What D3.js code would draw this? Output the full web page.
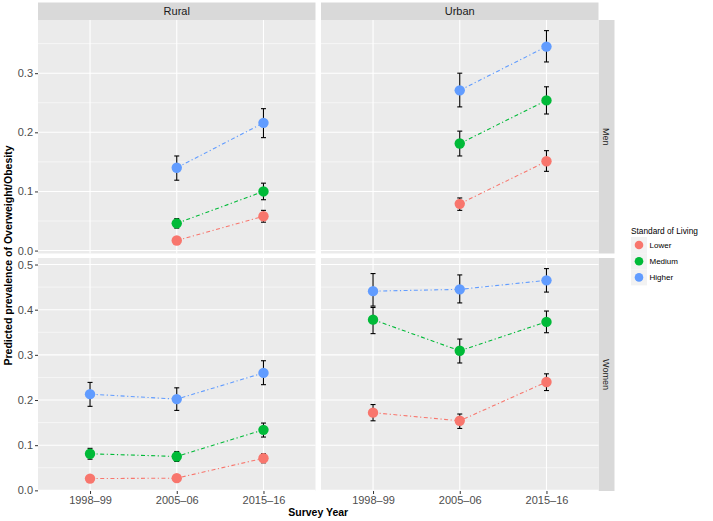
<!DOCTYPE html>
<html>
<head>
<meta charset="utf-8">
<script src="https://cdn.jsdelivr.net/npm/d3@7"></script>
<style>
  html, body { margin: 0; padding: 0; background: #ffffff; }
  svg { display: block; font-family: "Liberation Sans", Arial, Helvetica, sans-serif; }
</style>
</head>
<body>
<svg id="chart" width="713" height="521"></svg>
<script>
// ---------------- DATA ----------------
const years = ["1998–99", "2005–06", "2015–16"];
const areas = ["Rural", "Urban"];
const sexes = ["Men", "Women"];
const levels = ["Lower", "Medium", "Higher"];
const levelColors = ["#F8766D", "#00BA38", "#619CFF"];

// rows = levels (Lower, Medium, Higher), columns = years
const menRuralEst  = [[null, 0.017, 0.058], [null, 0.046, 0.100], [null, 0.140, 0.216]];
const menRuralLow  = [[null, 0.013, 0.048], [null, 0.038, 0.086], [null, 0.119, 0.191]];
const menRuralHigh = [[null, 0.021, 0.068], [null, 0.054, 0.114], [null, 0.160, 0.240]];

const menUrbanEst  = [[null, 0.079, 0.151], [null, 0.181, 0.254], [null, 0.271, 0.345]];
const menUrbanLow  = [[null, 0.068, 0.134], [null, 0.160, 0.231], [null, 0.243, 0.319]];
const menUrbanHigh = [[null, 0.089, 0.169], [null, 0.202, 0.277], [null, 0.300, 0.372]];

const womenRuralEst  = [[0.026, 0.027, 0.071], [0.081, 0.075, 0.134], [0.213, 0.202, 0.260]];
const womenRuralLow  = [[0.022, 0.023, 0.061], [0.069, 0.064, 0.118], [0.186, 0.177, 0.234]];
const womenRuralHigh = [[0.030, 0.031, 0.081], [0.093, 0.086, 0.149], [0.239, 0.227, 0.287]];

const womenUrbanEst  = [[0.172, 0.154, 0.240], [0.378, 0.309, 0.373], [0.441, 0.445, 0.465]];
const womenUrbanLow  = [[0.154, 0.137, 0.221], [0.347, 0.282, 0.349], [0.408, 0.415, 0.439]];
const womenUrbanHigh = [[0.190, 0.169, 0.258], [0.405, 0.335, 0.397], [0.480, 0.477, 0.491]];

const yTicksMen = [0.0, 0.1, 0.2, 0.3];
const yTicksWomen = [0.0, 0.1, 0.2, 0.3, 0.4, 0.5];

const yTitle = "Predicted prevalence of Overweight/Obesity";
const xTitle = "Survey Year";
const legendTitle = "Standard of Living";

// ---------------- LAYOUT ----------------
const panelData = {
  Men:   { Rural: [menRuralEst, menRuralLow, menRuralHigh], Urban: [menUrbanEst, menUrbanLow, menUrbanHigh] },
  Women: { Rural: [womenRuralEst, womenRuralLow, womenRuralHigh], Urban: [womenUrbanEst, womenUrbanLow, womenUrbanHigh] }
};
const yTicks = { Men: yTicksMen, Women: yTicksWomen };

const colX = { Rural: [38, 315.5], Urban: [321, 598.5] };
const rowY = { Men: [20, 253.5], Women: [258, 491] };

const svg = d3.select("#chart");
const color = d3.scaleOrdinal().domain(levels).range(levelColors);

// y scales per row (free_y with 5% expansion, shared across columns)
const yScales = {};
sexes.forEach(s => {
  let lo = Infinity, hi = -Infinity;
  areas.forEach(a => {
    const [, l, h] = panelData[s][a];
    l.flat().forEach(v => { if (v != null) lo = Math.min(lo, v); });
    h.flat().forEach(v => { if (v != null) hi = Math.max(hi, v); });
  });
  const pad = (hi - lo) * 0.05;
  yScales[s] = d3.scaleLinear().domain([lo - pad, hi + pad]).range([rowY[s][1], rowY[s][0]]);
});

// x scales per column (discrete with 0.6 expansion)
const xScales = {};
areas.forEach(a => {
  const [x0, x1] = colX[a];
  const unit = (x1 - x0) / (years.length - 1 + 1.2);
  xScales[a] = d3.scalePoint().domain(years).range([x0 + 0.6 * unit, x1 - 0.6 * unit]);
});

// top strips
areas.forEach(a => {
  const [x0, x1] = colX[a];
  svg.append("rect").attr("x", x0).attr("y", 2.5).attr("width", x1 - x0).attr("height", 17.5).attr("fill", "#d9d9d9");
  svg.append("text").attr("x", (x0 + x1) / 2).attr("y", 15.2).attr("text-anchor", "middle")
    .attr("font-size", 11).attr("fill", "#1a1a1a").text(a);
});
// right strips
sexes.forEach(s => {
  const [y0, y1] = rowY[s];
  svg.append("rect").attr("x", 598.5).attr("y", y0).attr("width", 16).attr("height", y1 - y0).attr("fill", "#d9d9d9");
  svg.append("text").attr("transform", `translate(602.5,${(y0 + y1) / 2}) rotate(90)`)
    .attr("text-anchor", "middle").attr("font-size", 9).attr("fill", "#1a1a1a").text(s);
});

// panels
sexes.forEach(s => {
  areas.forEach(a => {
    const x = xScales[a], y = yScales[s];
    const [x0, x1] = colX[a];
    const [y0, y1] = rowY[s];
    const g = svg.append("g");
    g.append("rect").attr("x", x0).attr("y", y0).attr("width", x1 - x0).attr("height", y1 - y0).attr("fill", "#ebebeb");
    // minor grid
    const ticks = yTicks[s];
    const minors = ticks.map(t => t + 0.05).concat([ticks[0] - 0.05])
      .filter(v => v > y.domain()[0] && v < y.domain()[1]);
    g.selectAll(".minor").data(minors).join("line")
      .attr("x1", x0).attr("x2", x1).attr("y1", d => y(d)).attr("y2", d => y(d))
      .attr("stroke", "#ffffff").attr("stroke-width", 0.55);
    g.selectAll(".major").data(ticks).join("line")
      .attr("x1", x0).attr("x2", x1).attr("y1", d => y(d)).attr("y2", d => y(d))
      .attr("stroke", "#ffffff").attr("stroke-width", 1.1);
    g.selectAll(".vmajor").data(years).join("line")
      .attr("x1", d => x(d)).attr("x2", d => x(d)).attr("y1", y0).attr("y2", y1)
      .attr("stroke", "#ffffff").attr("stroke-width", 1.1);

    const [est, low, high] = panelData[s][a];
    levels.forEach((lev, li) => {
      const pts = years.map((yr, yi) => ({ yr, v: est[li][yi], lo: low[li][yi], hi: high[li][yi] }))
        .filter(p => p.v != null);
      // line
      g.append("path").datum(pts)
        .attr("d", d3.line().x(p => x(p.yr)).y(p => y(p.v)))
        .attr("fill", "none").attr("stroke", color(lev)).attr("stroke-width", 1.1)
        .attr("stroke-dasharray", "4,2.5,1.2,2.5");
    });
    levels.forEach((lev, li) => {
      const pts = years.map((yr, yi) => ({ yr, v: est[li][yi], lo: low[li][yi], hi: high[li][yi] }))
        .filter(p => p.v != null);
      // error bars
      const eb = g.append("g").attr("stroke", "#000000").attr("stroke-width", 1.1).attr("fill", "none");
      eb.selectAll(".v").data(pts).join("line")
        .attr("x1", p => x(p.yr)).attr("x2", p => x(p.yr)).attr("y1", p => y(p.lo)).attr("y2", p => y(p.hi));
      eb.selectAll(".t").data(pts).join("line")
        .attr("x1", p => x(p.yr) - 2.5).attr("x2", p => x(p.yr) + 2.5).attr("y1", p => y(p.hi)).attr("y2", p => y(p.hi));
      eb.selectAll(".b").data(pts).join("line")
        .attr("x1", p => x(p.yr) - 2.5).attr("x2", p => x(p.yr) + 2.5).attr("y1", p => y(p.lo)).attr("y2", p => y(p.lo));
      // points
      g.selectAll(null).data(pts).join("circle")
        .attr("cx", p => x(p.yr)).attr("cy", p => y(p.v)).attr("r", 5.2)
        .attr("fill", color(lev));
    });
  });
});

// y axes (left of Rural column)
sexes.forEach(s => {
  const ax = d3.axisLeft(yScales[s]).tickValues(yTicks[s]).tickFormat(d3.format(".1f")).tickSize(3).tickPadding(2);
  const g = svg.append("g").attr("transform", `translate(${colX.Rural[0]},0)`).call(ax);
  g.select(".domain").remove();
  g.selectAll(".tick line").attr("stroke", "#333333").attr("stroke-width", 1);
  g.selectAll(".tick text").attr("fill", "#4d4d4d").attr("font-size", 11)
    .attr("font-family", "Liberation Sans, Arial, sans-serif");
});
// x axes (bottom of Women row)
areas.forEach(a => {
  const ax = d3.axisBottom(xScales[a]).tickSize(3).tickPadding(2);
  const g = svg.append("g").attr("transform", `translate(0,${rowY.Women[1]})`).call(ax);
  g.select(".domain").remove();
  g.selectAll(".tick line").attr("stroke", "#333333").attr("stroke-width", 1);
  g.selectAll(".tick text").attr("fill", "#4d4d4d").attr("font-size", 11)
    .attr("font-family", "Liberation Sans, Arial, sans-serif");
});

// axis titles
svg.append("text").attr("x", (colX.Rural[0] + colX.Urban[1]) / 2).attr("y", 516)
  .attr("text-anchor", "middle").attr("font-size", 10.5).attr("font-weight", "bold").attr("fill", "#000").text(xTitle);
svg.append("text").attr("transform", `translate(11.5,${(rowY.Men[0] + rowY.Women[1]) / 2}) rotate(-90)`)
  .attr("text-anchor", "middle").attr("font-size", 10.5).attr("font-weight", "bold").attr("fill", "#000").text(yTitle);

// legend
const lg = svg.append("g").attr("transform", "translate(631,0)");
lg.append("text").attr("x", 0).attr("y", 234.3).attr("font-size", 8.3).attr("fill", "#000").text(legendTitle);
levels.forEach((lev, i) => {
  const ky = 237 + i * 16.2;
  lg.append("rect").attr("x", 0).attr("y", ky).attr("width", 16).attr("height", 16).attr("fill", "#f2f2f2");
  lg.append("circle").attr("cx", 8).attr("cy", ky + 8).attr("r", 4.3).attr("fill", color(lev));
  lg.append("text").attr("x", 18.5).attr("y", ky + 11).attr("font-size", 8).attr("fill", "#000").text(lev);
});
</script>
</body>
</html>
